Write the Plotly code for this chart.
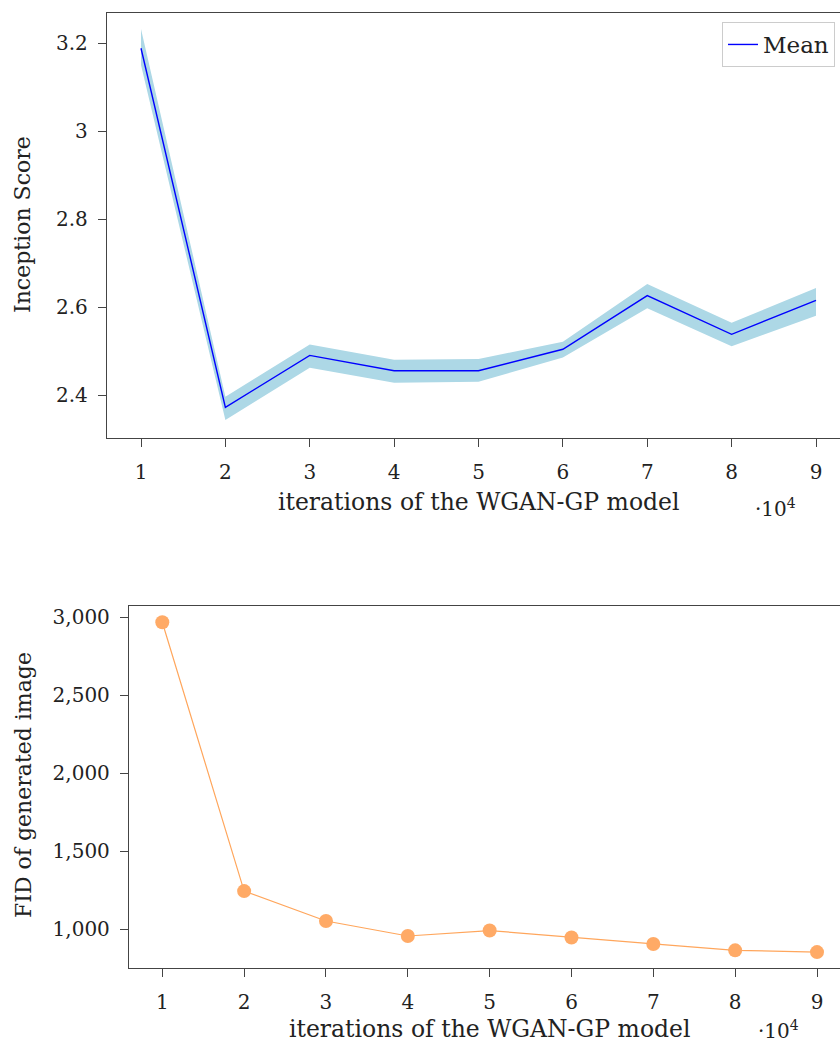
import plotly.graph_objects as go

# ---- data ----
iters = [1, 2, 3, 4, 5, 6, 7, 8, 9]
is_mean = [3.188, 2.372, 2.490, 2.455, 2.455, 2.504, 2.626, 2.538, 2.615]
is_upper = [3.232, 2.396, 2.515, 2.480, 2.482, 2.521, 2.652, 2.564, 2.643]
is_lower = [3.150, 2.343, 2.462, 2.428, 2.430, 2.485, 2.597, 2.511, 2.580]
fid = [2968, 1245, 1053, 957, 992, 947, 906, 865, 854]
x_ticks = [1, 2, 3, 4, 5, 6, 7, 8, 9]
is_ticks = [2.4, 2.6, 2.8, 3.0, 3.2]
is_ticklabels = ["2.4", "2.6", "2.8", "3", "3.2"]
fid_ticks = [1000, 1500, 2000, 2500, 3000]
fid_ticklabels = ["1,000", "1,500", "2,000", "2,500", "3,000"]

W, H = 840, 1044
FONT = "DejaVu Serif"
FS = 20
XTFS = 23.5
YTFS = 22
LFS = 23
AX = "#444444"
TXT = "#222222"

fig = go.Figure()

fig.add_trace(go.Scatter(x=iters, y=is_lower, mode="lines", line=dict(width=0, color="#ADD8E6"),
                         showlegend=False, hoverinfo="skip", xaxis="x", yaxis="y"))
fig.add_trace(go.Scatter(x=iters, y=is_upper, mode="lines", line=dict(width=0, color="#ADD8E6"),
                         fill="tonexty", fillcolor="#ADD8E6", showlegend=False, hoverinfo="skip",
                         xaxis="x", yaxis="y"))
fig.add_trace(go.Scatter(x=iters, y=is_mean, mode="lines", name="Mean",
                         line=dict(color="#0000FF", width=1.4), xaxis="x", yaxis="y"))
fig.add_trace(go.Scatter(x=iters, y=fid, mode="lines+markers", showlegend=False,
                         line=dict(color="#FFA65C", width=1.2),
                         marker=dict(color="#FFAA66", size=14),
                         xaxis="x2", yaxis="y2"))

def px_x(p):
    return p / W

def px_y(p):
    return 1 - p / H

common = dict(showline=True, linecolor=AX, linewidth=1.3, ticks="outside", ticklen=8,
              tickcolor=AX, tickwidth=1.2, showgrid=False, zeroline=False,
              tickfont=dict(family=FONT, size=FS, color=TXT))

# top plot geometry: left 107, top 13, bottom 438; x tick 1 at 141, 9 at 816
t_ppu = (816 - 141) / 8
t_x0 = 1 - (141 - 107) / t_ppu
t_x1 = t_x0 + (W - 107) / t_ppu
t_yppu = (395 - 43) / 0.8
t_ytop = 3.2 + (43 - 13) / t_yppu
t_ybot = 2.4 - (438 - 395) / t_yppu

# bottom plot geometry: left 129, top 605.7, bottom 968.3; tick 1 at 162.3, 9 at 817
b_ppu = (817 - 162.3) / 8
b_x0 = 1 - (162.3 - 129) / b_ppu
b_x1 = b_x0 + (W - 129) / b_ppu
b_yppu = (929.3 - 617.3) / 2000
b_ytop = 3000 + (617.3 - 605.7) / b_yppu
b_ybot = 1000 - (968.3 - 929.3) / b_yppu

fig.update_layout(
    width=W, height=H,
    margin=dict(l=0, r=0, t=0, b=0),
    paper_bgcolor="white", plot_bgcolor="white",
    font=dict(family=FONT, size=FS, color=TXT),
    xaxis=dict(domain=[px_x(107), 1], range=[t_x0, t_x1], tickvals=x_ticks,
               mirror=True, anchor="y", ticklabelstandoff=8, **common),
    yaxis=dict(domain=[px_y(438), px_y(13)], range=[t_ybot, t_ytop], tickvals=is_ticks,
               ticktext=is_ticklabels, anchor="x", ticklabelstandoff=6, **common),
    xaxis2=dict(domain=[px_x(129), 1], range=[b_x0, b_x1], tickvals=x_ticks,
                mirror=True, anchor="y2", ticklabelstandoff=8, **common),
    yaxis2=dict(domain=[px_y(968.3), px_y(605.7)], range=[b_ybot, b_ytop], tickvals=fid_ticks,
                ticktext=fid_ticklabels, anchor="x2", ticklabelstandoff=6, **common),
    legend=dict(x=835 / W, xanchor="right", y=px_y(22), yanchor="top",
                bordercolor="#CCCCCC", borderwidth=1, bgcolor="white",
                font=dict(family=FONT, size=LFS, color=TXT), itemwidth=30),
    showlegend=True,
)

ann = [
    dict(text="iterations of the WGAN-GP model", x=px_x(478.5), y=px_y(502), size=XTFS),
    dict(text="·10<sup>4</sup>", x=px_x(775), y=px_y(508), size=FS),
    dict(text="iterations of the WGAN-GP model", x=px_x(490), y=px_y(1029), size=XTFS),
    dict(text="·10<sup>4</sup>", x=px_x(778), y=px_y(1030), size=FS),
    dict(text="Inception Score", x=px_x(23), y=px_y(225), textangle=-90, size=YTFS),
    dict(text="FID of generated image", x=px_x(23), y=px_y(785), textangle=-90, size=YTFS),
]
for a in ann:
    size = a.pop("size")
    fig.add_annotation(xref="paper", yref="paper", showarrow=False,
                       xanchor="center", yanchor="middle",
                       font=dict(family=FONT, size=size, color=TXT), **a)

fig.write_html(
    "out.html",
    config={"displayModeBar": False},
    post_script="document.body.style.margin='0';document.body.style.overflow='hidden';",
)
